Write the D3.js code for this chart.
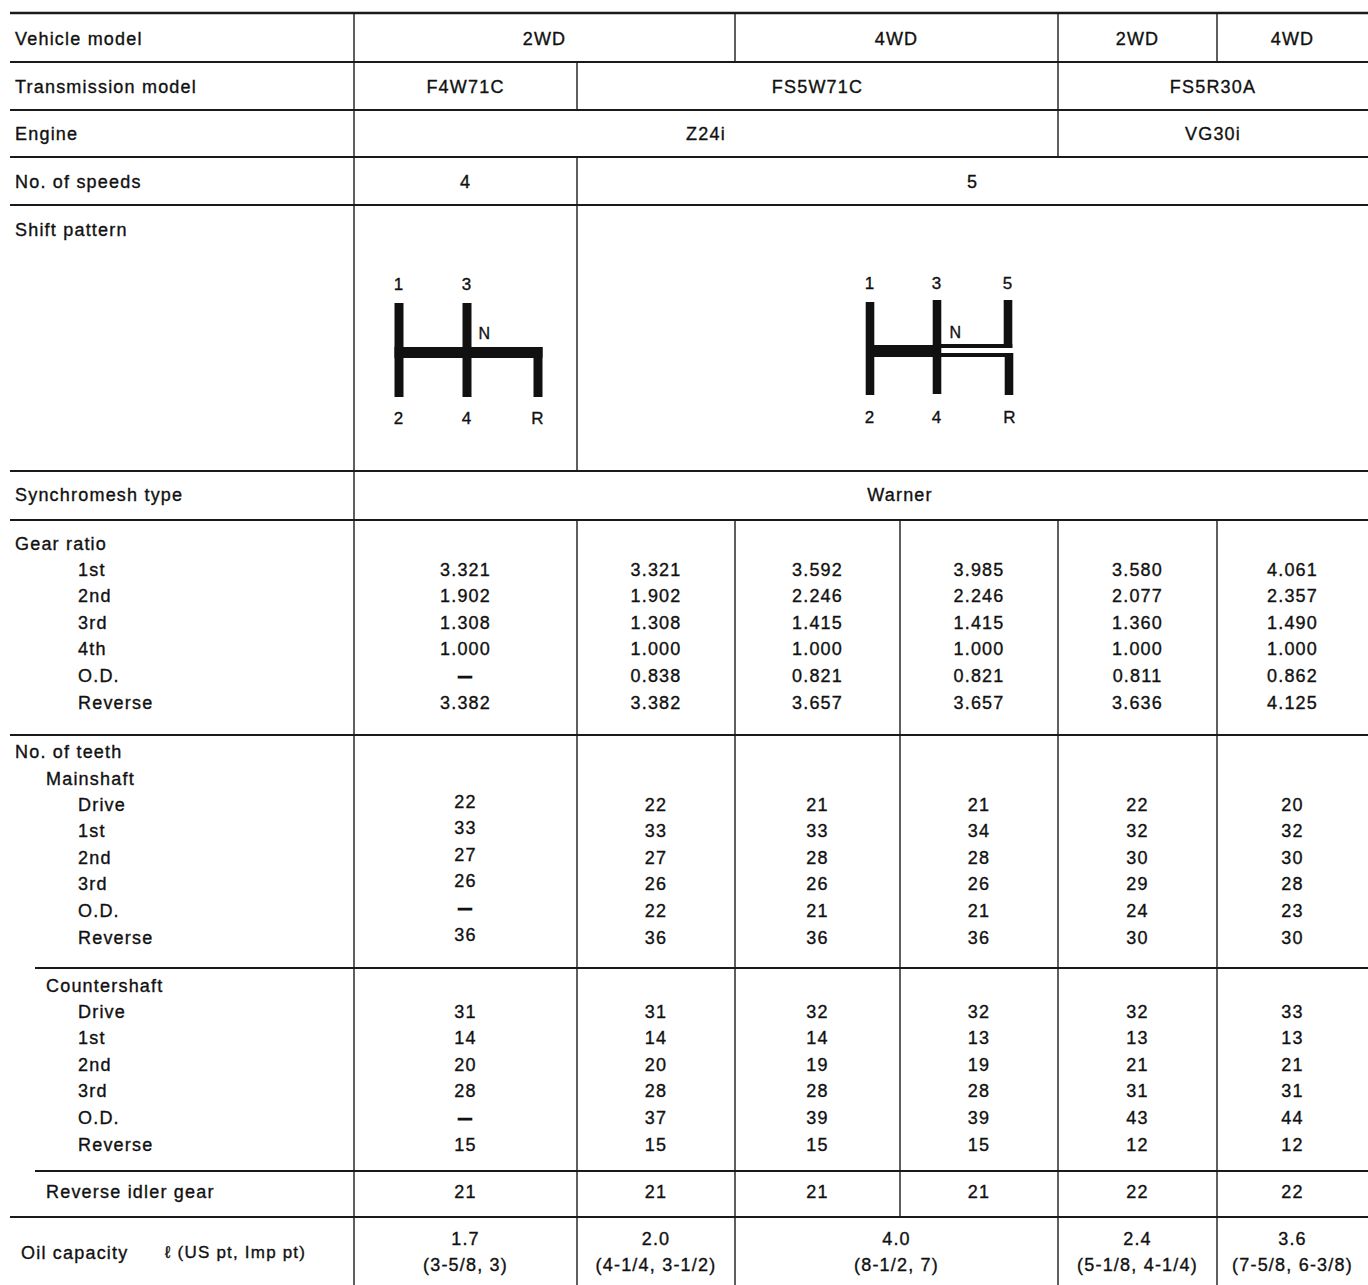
<!DOCTYPE html>
<html>
<head>
<meta charset="utf-8">
<script src="https://cdn.jsdelivr.net/npm/d3@7"></script>
<style>
html,body{margin:0;padding:0;background:#fff;}
svg{display:block;}
text{font-family:"Liberation Sans",Arial,Helvetica,sans-serif;font-size:18px;fill:#111;letter-spacing:1.2px;stroke:#111;stroke-width:0.35px;}
</style>
</head>
<body>
<svg id="chart" width="1368" height="1285"></svg>
<script>
// ---------------- DATA ----------------
const vehicleModel = [{text:"2WD",span:2},{text:"4WD",span:2},{text:"2WD",span:1},{text:"4WD",span:1}];
const transmissionModel = [{text:"F4W71C",span:1},{text:"FS5W71C",span:3},{text:"FS5R30A",span:2}];
const engine = [{text:"Z24i",span:4},{text:"VG30i",span:2}];
const speeds = [{text:"4",span:1},{text:"5",span:5}];
const synchromesh = "Warner";

const gearLabels = ["1st","2nd","3rd","4th","O.D.","Reverse"];
const gearRatio = [
  ["3.321","1.902","1.308","1.000","–","3.382"],
  ["3.321","1.902","1.308","1.000","0.838","3.382"],
  ["3.592","2.246","1.415","1.000","0.821","3.657"],
  ["3.985","2.246","1.415","1.000","0.821","3.657"],
  ["3.580","2.077","1.360","1.000","0.811","3.636"],
  ["4.061","2.357","1.490","1.000","0.862","4.125"]
];
const teethLabels = ["Drive","1st","2nd","3rd","O.D.","Reverse"];
const mainshaft = [
  ["22","33","27","26","–","36"],
  ["22","33","27","26","22","36"],
  ["21","33","28","26","21","36"],
  ["21","34","28","26","21","36"],
  ["22","32","30","29","24","30"],
  ["20","32","30","28","23","30"]
];
const countershaft = [
  ["31","14","20","28","–","15"],
  ["31","14","20","28","37","15"],
  ["32","14","19","28","39","15"],
  ["32","13","19","28","39","15"],
  ["32","13","21","31","43","12"],
  ["33","13","21","31","44","12"]
];
const reverseIdler = ["21","21","21","21","22","22"];
const oilCapacity = [
  {litre:"1.7",pints:"(3-5/8, 3)",span:1},
  {litre:"2.0",pints:"(4-1/4, 3-1/2)",span:1},
  {litre:"4.0",pints:"(8-1/2, 7)",span:2},
  {litre:"2.4",pints:"(5-1/8, 4-1/4)",span:1},
  {litre:"3.6",pints:"(7-5/8, 6-3/8)",span:1}
];
const shift4 = {top:["1","3"], bottom:["2","4","R"]};
const shift5 = {top:["1","3","5"], bottom:["2","4","R"]};

// ---------------- LAYOUT ----------------
const svg = d3.select("#chart");
const colEdge = d3.scaleOrdinal().domain(d3.range(7)).range([354,577,735,900,1058,1217,1368]);
const colCenter = i => (colEdge(i)+colEdge(i+1))/2;
const spanCenter = (s,n) => (colEdge(s)+colEdge(s+n))/2;
const BL = 6.5; // centre -> baseline
const rowStep = d3.scaleLinear().domain([0,1]).range([0,26.6]);

const lineCol = "#1a1a1a";
function hline(y, x1=10, x2=1368, w=2.2){
  svg.append("line").attr("x1",x1).attr("x2",x2).attr("y1",y).attr("y2",y)
    .attr("stroke",lineCol).attr("stroke-width",w);
}
function vline(x, y1, y2, w=1.4){
  svg.append("line").attr("x1",x).attr("x2",x).attr("y1",y1).attr("y2",y2)
    .attr("stroke",lineCol).attr("stroke-width",w);
}
function txt(x, yc, s, anchor="middle", size){
  const t = svg.append("text").attr("x",x).attr("y",yc+BL).attr("text-anchor",anchor).text(s);
  if(size) t.style("font-size",size+"px");
  if(s==="–"){ t.style("font-size","24px").style("stroke-width","1.2px").attr("y",yc+8); }
  return t;
}
function spanRow(cells, yTop, yBot, yc){
  let c=0;
  cells.forEach((d,i)=>{
    if(i>0) vline(colEdge(c), yTop, yBot);
    txt(spanCenter(c,d.span), yc, d.text);
    c+=d.span;
  });
}

// horizontal rules
const rows = [13,62,110,157,205,471,520,735,968,1171,1217];
rows.forEach(y=>{
  const x1 = (y===968||y===1171) ? 35 : 10;
  hline(y, x1, 1368, y===13?2.6:2.2);
});
// label column border
vline(colEdge(0), 13, 1285);

// header rows
txt(15, 38, "Vehicle model", "start");
spanRow(vehicleModel, 13, 62, 38);
txt(15, 86, "Transmission model", "start");
spanRow(transmissionModel, 62, 110, 86);
txt(15, 133, "Engine", "start");
spanRow(engine, 110, 157, 133);
txt(15, 181, "No. of speeds", "start");
spanRow(speeds, 157, 205, 181);
txt(15, 229, "Shift pattern", "start");
vline(colEdge(1), 205, 471);
txt(15, 494, "Synchromesh type", "start");
txt(colEdge(3), 494, synchromesh);

// full grid from gear ratio down to reverse idler
[1,2,3,4,5].forEach(i=> vline(colEdge(i), 520, 1217));
// oil capacity row
let oc=0;
oilCapacity.forEach((d,i)=>{
  if(i>0) vline(colEdge(oc), 1217, 1285);
  const cx = spanCenter(oc,d.span);
  txt(cx, 1238, d.litre);
  txt(cx, 1264, d.pints);
  oc+=d.span;
});

// gear ratio block
txt(15, 543, "Gear ratio", "start");
gearLabels.forEach((g,r)=> txt(78, 569+rowStep(r), g, "start"));
gearRatio.forEach((col,c)=> col.forEach((v,r)=> txt(colCenter(c), 569+rowStep(r), v)));

// teeth block
txt(15, 751, "No. of teeth", "start");
txt(46, 778, "Mainshaft", "start");
teethLabels.forEach((g,r)=> txt(78, 804+rowStep(r), g, "start"));
mainshaft.forEach((col,c)=> col.forEach((v,r)=> txt(colCenter(c), (c===0?801:804)+rowStep(r), v)));
txt(46, 985, "Countershaft", "start");
teethLabels.forEach((g,r)=> txt(78, 1011+rowStep(r), g, "start"));
countershaft.forEach((col,c)=> col.forEach((v,r)=> txt(colCenter(c), 1011+rowStep(r), v)));

txt(46, 1191, "Reverse idler gear", "start");
reverseIdler.forEach((v,c)=> txt(colCenter(c), 1191, v));

txt(21, 1252, "Oil capacity", "start");
txt(165, 1251, "ℓ (US pt, Imp pt)", "start", 17);

// ---------------- SHIFT PATTERNS ----------------
const ink = "#111";
function rect(x1,y1,x2,y2){
  svg.append("rect").attr("x",x1).attr("y",y1).attr("width",x2-x1).attr("height",y2-y1).attr("fill",ink);
}
// 4-speed
(function(){
  const gx = [399,467,538], w=4.5;
  rect(gx[0]-w,303,gx[0]+w,397);
  rect(gx[1]-w,303,gx[1]+w,397);
  rect(gx[2]-w,347,gx[2]+w,397);
  rect(gx[0]-w,347,gx[2]+w,358);
  shift4.top.forEach((s,i)=> txt(gx[i], 283, s, "middle", 17));
  shift4.bottom.forEach((s,i)=> txt(gx[i], 417, s, "middle", 17));
  txt(485, 332, "N", "middle", 16);
})();
// 5-speed
(function(){
  const gx = [870,937,1008], w=4.3;
  rect(gx[0]-w,302,gx[0]+w,395);
  rect(gx[1]-w,300,gx[1]+w,394);
  rect(gx[2]-w,300,gx[2]+w,348);
  rect(gx[2]-w+1,353,gx[2]+w+1,395);
  rect(gx[0],345,gx[1],357);
  rect(gx[1],344,gx[2]+w,348);
  rect(gx[1],353,gx[2]+w,357);
  shift5.top.forEach((s,i)=> txt(gx[i], 282, s, "middle", 17));
  shift5.bottom.forEach((s,i)=> txt(gx[i]+(i===2?2:0), 416, s, "middle", 17));
  txt(956, 331, "N", "middle", 16);
})();
</script>
</body>
</html>
